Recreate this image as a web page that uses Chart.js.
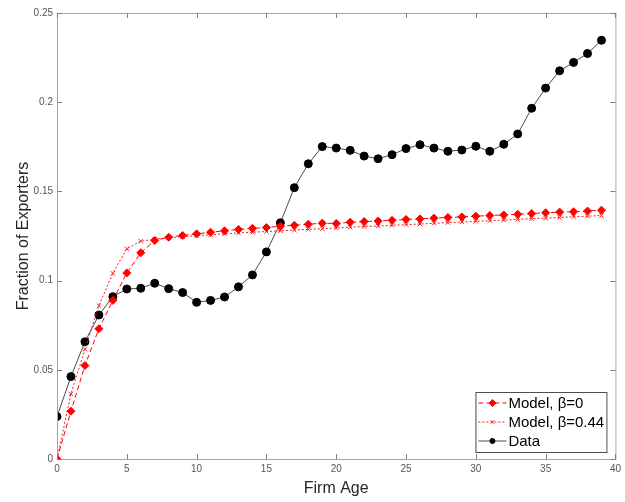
<!DOCTYPE html>
<html>
<head>
<meta charset="utf-8">
<script src="https://cdn.jsdelivr.net/npm/chart.js@4"></script>
<style>
  html, body { margin: 0; padding: 0; background: #fff; }
  #wrap { width: 625px; height: 502px; }
</style>
</head>
<body>
<div id="wrap"><canvas id="chart" width="625" height="502"></canvas></div>
<script>
// firm age 0..39
const ages = [0,1,2,3,4,5,6,7,8,9,10,11,12,13,14,15,16,17,18,19,20,21,22,23,24,25,26,27,28,29,30,31,32,33,34,35,36,37,38,39];

const modelBeta0 = [0, 0.0268, 0.0524, 0.0730, 0.0889, 0.1043, 0.1156, 0.1225, 0.1243, 0.1253,
  0.1262, 0.1271, 0.1279, 0.1287, 0.1293, 0.1297, 0.1305, 0.1310, 0.1316, 0.1322,
  0.1320, 0.1327, 0.1331, 0.1334, 0.1338, 0.1343, 0.1346, 0.1350, 0.1354, 0.1357,
  0.1361, 0.1365, 0.1368, 0.1372, 0.1376, 0.1380, 0.1384, 0.1386, 0.1390, 0.1395];

const modelBeta044 = [0, 0.0365, 0.0615, 0.0860, 0.1041, 0.1178, 0.1221, 0.1232, 0.1240, 0.1246,
  0.1252, 0.1257, 0.1262, 0.1267, 0.1271, 0.1275, 0.1279, 0.1283, 0.1287, 0.1291,
  0.1295, 0.1299, 0.1303, 0.1306, 0.1310, 0.1314, 0.1317, 0.1321, 0.1325, 0.1328,
  0.1332, 0.1336, 0.1339, 0.1343, 0.1347, 0.1350, 0.1354, 0.1358, 0.1361, 0.1365];

const dataValues = [0.0238, 0.0462, 0.0657, 0.0807, 0.0910, 0.0953, 0.0957, 0.0985, 0.0955, 0.0933,
  0.0878, 0.0889, 0.0908, 0.0965, 0.1032, 0.1161, 0.1324, 0.1521, 0.1655, 0.1751,
  0.1743, 0.1730, 0.1698, 0.1683, 0.1706, 0.1740, 0.1762, 0.1743, 0.1725, 0.1732,
  0.1753, 0.1725, 0.1764, 0.1822, 0.1966, 0.2079, 0.2176, 0.2223, 0.2273, 0.2347];

const xTicks = [0, 5, 10, 15, 20, 25, 30, 35, 40];
const yTicks = [0, 0.05, 0.1, 0.15, 0.2, 0.25];
const seriesLabels = ['Model, \u03B2=0', 'Model, \u03B2=0.44', 'Data'];

const toXY = (arr) => arr.map((v, i) => ({ x: ages[i], y: v }));

const tickFont = { family: 'Liberation Sans, Arial, sans-serif', size: 10 };
const labelFont = { family: 'Liberation Sans, Arial, sans-serif', size: 16 };

// box with inward ticks on all four sides (matlab style)
const boxPlugin = {
  id: 'box',
  afterDraw(chart) {
    const { ctx, chartArea: a, scales } = chart;
    ctx.save();
    ctx.strokeStyle = '#a6a6a6';
    ctx.lineWidth = 1;
    ctx.strokeRect(a.left + 0.5, a.top + 0.5, a.right - a.left, a.bottom - a.top);
    ctx.strokeStyle = '#7f7f7f';
    ctx.beginPath();
    xTicks.forEach(t => {
      const px = Math.round(scales.x.getPixelForValue(t)) + 0.5;
      ctx.moveTo(px, a.bottom); ctx.lineTo(px, a.bottom - 5);
      ctx.moveTo(px, a.top); ctx.lineTo(px, a.top + 5);
    });
    yTicks.forEach(t => {
      const py = Math.round(scales.y.getPixelForValue(t)) + 0.5;
      ctx.moveTo(a.left, py); ctx.lineTo(a.left + 5, py);
      ctx.moveTo(a.right, py); ctx.lineTo(a.right - 5, py);
    });
    ctx.stroke();
    ctx.restore();
  }
};

// legend drawn in the lower right corner of the plot area
const legendPlugin = {
  id: 'boxLegend',
  afterDraw(chart) {
    const { ctx, chartArea: a } = chart;
    const w = 131, h = 60, rowH = 19;
    const x0 = a.right - 9 - w, y0 = a.bottom - 7 - h;
    ctx.save();
    ctx.fillStyle = '#fff';
    ctx.fillRect(x0, y0, w, h);
    ctx.strokeStyle = '#4d4d4d';
    ctx.lineWidth = 1;
    ctx.strokeRect(x0 + 0.5, y0 + 0.5, w, h);
    ctx.font = '15px Liberation Sans, Arial, sans-serif';
    ctx.textBaseline = 'middle';
    chart.data.datasets.forEach((ds, i) => {
      const cy = y0 + 11 + i * rowH;
      ctx.strokeStyle = ds.borderColor;
      ctx.lineWidth = 1;
      ctx.setLineDash(ds.borderDash || []);
      ctx.beginPath();
      ctx.moveTo(x0 + 3, cy); ctx.lineTo(x0 + 31, cy);
      ctx.stroke();
      ctx.setLineDash([]);
      ctx.fillStyle = ds.pointBackgroundColor;
      ctx.strokeStyle = ds.pointBorderColor;
      Chart.helpers.drawPoint(ctx, {
        pointStyle: ds.pointStyle, radius: ds.legendRadius, borderWidth: 1, rotation: 0
      }, x0 + 17, cy);
      ctx.fillStyle = '#000';
      ctx.fillText(ds.label, x0 + 33, cy + 1);
    });
    ctx.restore();
  }
};

new Chart(document.getElementById('chart'), {
  type: 'line',
  data: {
    datasets: [{
      label: seriesLabels[0],
      data: toXY(modelBeta0),
      borderColor: '#ff0000',
      backgroundColor: '#ff0000',
      borderWidth: 1,
      borderDash: [5, 3],
      pointStyle: 'rectRot',
      pointRadius: 4,
      legendRadius: 3.5,
      pointBackgroundColor: '#ff0000',
      pointBorderColor: '#ff0000',
      tension: 0
    }, {
      label: seriesLabels[1],
      data: toXY(modelBeta044),
      borderColor: '#ff1a1a',
      backgroundColor: '#ff1a1a',
      borderWidth: 1,
      borderDash: [2, 2],
      pointStyle: 'crossRot',
      pointRadius: 3,
      legendRadius: 2.5,
      pointBorderWidth: 1,
      pointBackgroundColor: '#ff1a1a',
      pointBorderColor: '#ff1a1a',
      tension: 0
    }, {
      label: seriesLabels[2],
      data: toXY(dataValues),
      borderColor: '#4a4a4a',
      backgroundColor: '#000',
      borderWidth: 1,
      pointStyle: 'circle',
      pointRadius: 4,
      legendRadius: 2.5,
      pointBackgroundColor: '#000',
      pointBorderColor: '#000',
      tension: 0
    }]
  },
  options: {
    responsive: false,
    animation: false,
    layout: { padding: { left: 10, right: 8, top: 13, bottom: 0 } },
    plugins: {
      legend: { display: false },
      tooltip: { enabled: false }
    },
    scales: {
      x: {
        type: 'linear',
        min: 0, max: 40,
        afterBuildTicks: (s) => { s.ticks = xTicks.map(v => ({ value: v })); },
        afterFit: (s) => { s.height = 43; },
        grid: { display: false, drawTicks: false },
        border: { display: false },
        ticks: { color: '#555', font: tickFont, padding: 4, maxRotation: 0 },
        title: { display: true, text: 'Firm Age', color: '#262626', font: labelFont, padding: { top: 2 } }
      },
      y: {
        min: 0, max: 0.25,
        afterBuildTicks: (s) => { s.ticks = yTicks.map(v => ({ value: v })); },
        afterFit: (s) => { s.width = 47; },
        grid: { display: false, drawTicks: false },
        border: { display: false },
        ticks: { color: '#555', font: tickFont, padding: 4, callback: (v) => String(+v.toFixed(2)) },
        title: { display: true, text: 'Fraction of Exporters', color: '#262626', font: labelFont, padding: { bottom: 6 } }
      }
    }
  },
  plugins: [boxPlugin, legendPlugin]
});
</script>
</body>
</html>
